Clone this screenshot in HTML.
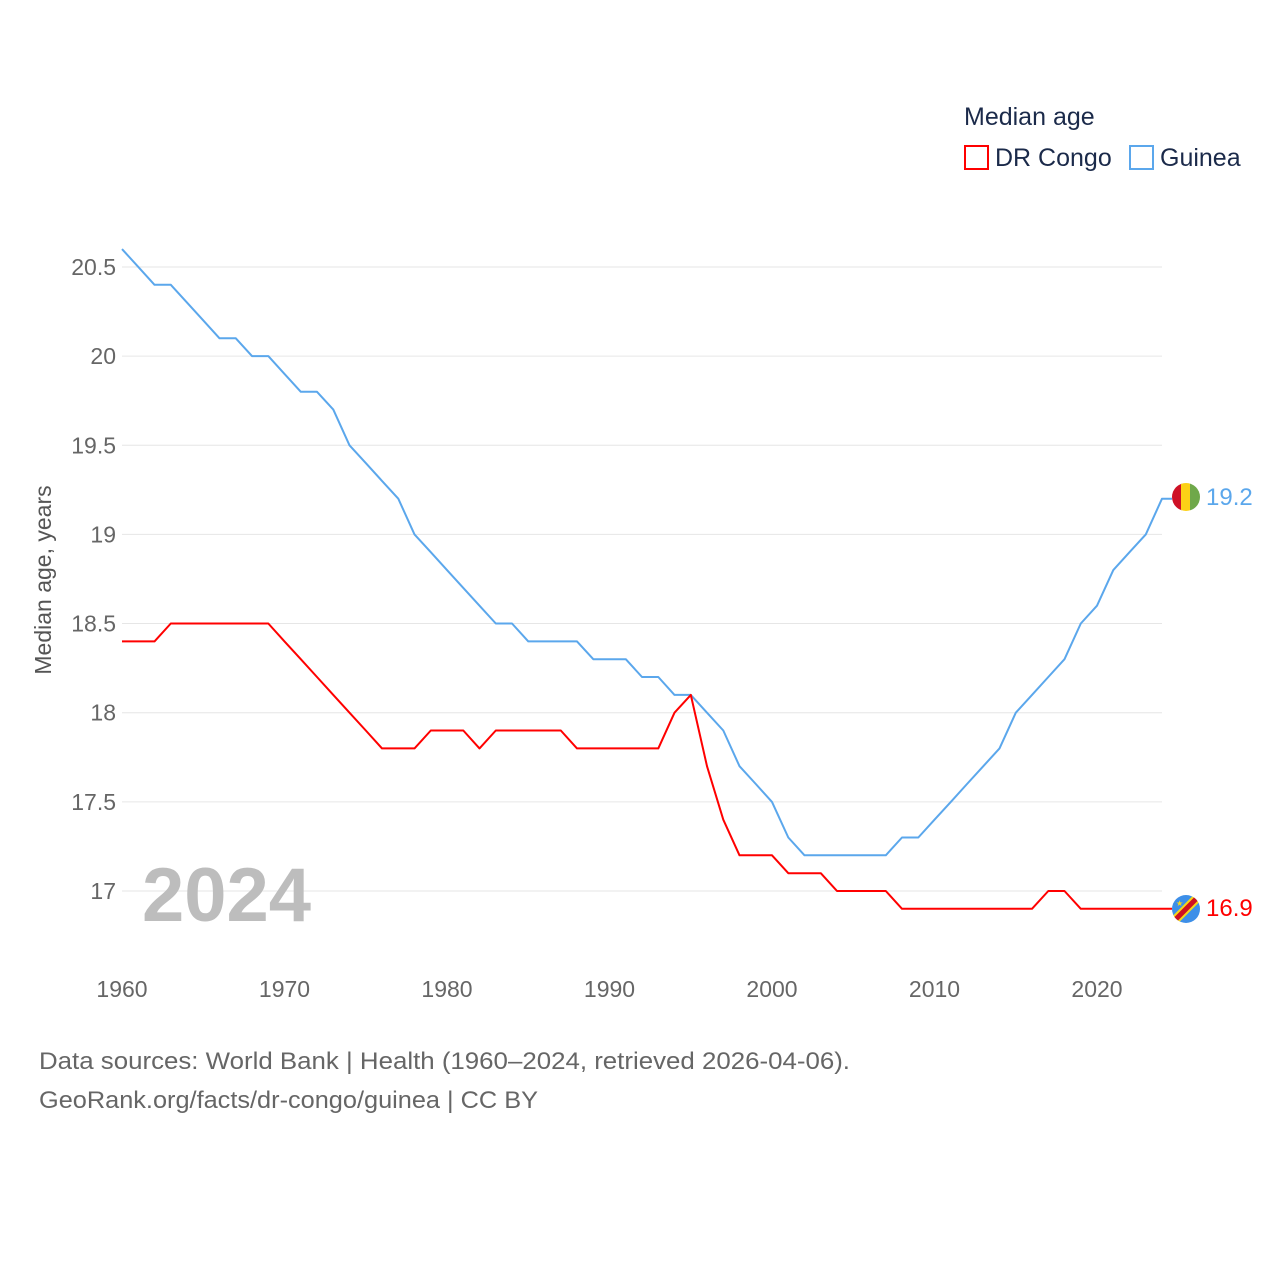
<!DOCTYPE html>
<html><head><meta charset="utf-8"><style>
body{margin:0;background:#fff;font-family:"Liberation Sans",sans-serif}
svg text{font-family:"Liberation Sans",sans-serif}
</style></head><body>
<svg id="chart" width="1280" height="1280" viewBox="0 0 1280 1280">
<g>
<text x="964" y="125" font-size="25" fill="#1b2a4a">Median age</text>
<rect x="965" y="146" width="23" height="23" fill="none" stroke="#ff0000" stroke-width="2"/>
<text x="995" y="166" font-size="25" fill="#1b2a4a">DR Congo</text>
<rect x="1130" y="146" width="23" height="23" fill="none" stroke="#5ba7ec" stroke-width="2"/>
<text x="1160" y="166" font-size="25" fill="#1b2a4a">Guinea</text>
</g>
<g id="grid"></g>
<g id="yticks"></g>
<g id="xticks"></g>
<text transform="translate(51,580) rotate(-90)" text-anchor="middle" font-size="23" fill="#555">Median age, years</text>
<text x="142" y="921" font-size="76" font-weight="bold" fill="#bdbdbd">2024</text>
<g id="series"></g>
<g>
<clipPath id="cg"><circle cx="1186" cy="497" r="14"/></clipPath>
<g clip-path="url(#cg)"><rect x="1172" y="483" width="10" height="28" fill="#ce1126"/><rect x="1181" y="483" width="10" height="28" fill="#fcd116"/><rect x="1190" y="483" width="10" height="28" fill="#6fa84a"/></g>
</g>
<g>
<clipPath id="cd"><circle cx="1186" cy="909" r="14"/></clipPath>
<g clip-path="url(#cd)"><rect x="1172" y="895" width="28" height="28" fill="#3d8fe8"/><line x1="1170" y1="925" x2="1202" y2="893" stroke="#f7d618" stroke-width="9"/><line x1="1170" y1="925" x2="1202" y2="893" stroke="#ce1021" stroke-width="5"/><text x="1176" y="906" font-size="8" fill="#f7d618">★</text></g>
</g>
<text x="1206" y="505" font-size="24" fill="#5ba7ec">19.2</text>
<text x="1206" y="916" font-size="24" fill="#ff0000">16.9</text>
<text x="39" y="1069" font-size="24" fill="#666" textLength="811" lengthAdjust="spacingAndGlyphs">Data sources: World Bank | Health (1960–2024, retrieved 2026-04-06).</text>
<text x="39" y="1108" font-size="24" fill="#666" textLength="499" lengthAdjust="spacingAndGlyphs">GeoRank.org/facts/dr-congo/guinea | CC BY</text>
</svg>
<script>
const years=[];for(let y=1960;y<=2024;y++)years.push(y);
const guinea=[20.6,20.5,20.4,20.4,20.3,20.2,20.1,20.1,20.0,20.0,19.9,19.8,19.8,19.7,19.5,19.4,19.3,19.2,19.0,18.9,18.8,18.7,18.6,18.5,18.5,18.4,18.4,18.4,18.4,18.3,18.3,18.3,18.2,18.2,18.1,18.1,18.0,17.9,17.7,17.6,17.5,17.3,17.2,17.2,17.2,17.2,17.2,17.2,17.3,17.3,17.4,17.5,17.6,17.7,17.8,18.0,18.1,18.2,18.3,18.5,18.6,18.8,18.9,19.0,19.2];
const drcongo=[18.4,18.4,18.4,18.5,18.5,18.5,18.5,18.5,18.5,18.5,18.4,18.3,18.2,18.1,18.0,17.9,17.8,17.8,17.8,17.9,17.9,17.9,17.8,17.9,17.9,17.9,17.9,17.9,17.8,17.8,17.8,17.8,17.8,17.8,18.0,18.1,17.7,17.4,17.2,17.2,17.2,17.1,17.1,17.1,17.0,17.0,17.0,17.0,16.9,16.9,16.9,16.9,16.9,16.9,16.9,16.9,16.9,17.0,17.0,16.9,16.9,16.9,16.9,16.9,16.9];
const yTicks=[17,17.5,18,18.5,19,19.5,20,20.5];
const yTickLabels=["17","17.5","18","18.5","19","19.5","20","20.5"];
const xTicks=[1960,1970,1980,1990,2000,2010,2020];
const X=y=>122+(y-1960)*16.25;
const Y=v=>891-(v-17)*178.3;
const NS="http://www.w3.org/2000/svg";
function mk(tag,attrs,parent){const e=document.createElementNS(NS,tag);for(const k in attrs)e.setAttribute(k,attrs[k]);parent.appendChild(e);return e;}
const grid=document.getElementById('grid'),yt=document.getElementById('yticks'),xt=document.getElementById('xticks'),ser=document.getElementById('series');
yTicks.forEach((v,i)=>{
 const l=mk('line',{x1:122,x2:1162,y1:Y(v),y2:Y(v),stroke:'#e6e6e6','stroke-width':1},grid);
 
 
 const t=mk('text',{x:116,y:Y(v)+8,'text-anchor':'end','font-size':23,fill:'#666'},yt);
 t.textContent=yTickLabels[i];
 
 
});
xTicks.forEach(v=>{
 const t=mk('text',{x:X(v),y:997,'text-anchor':'middle','font-size':23,fill:'#666'},xt);
 t.textContent=v;
 
 
});
function line(vals,color,name,endX){
 let d=vals.map((v,i)=>(i?'L':'M')+X(years[i]).toFixed(1)+','+Y(v).toFixed(1)).join(' ');
 d+=' L'+endX+','+Y(vals[vals.length-1]).toFixed(1);
 const p=mk('path',{d:d,fill:'none',stroke:color,'stroke-width':2,'stroke-linejoin':'round'},ser);
 
 
}
line(guinea,'#5ba7ec','guinea-line',1172);
line(drcongo,'#ff0000','drcongo-line',1172);
</script>
</body></html>
